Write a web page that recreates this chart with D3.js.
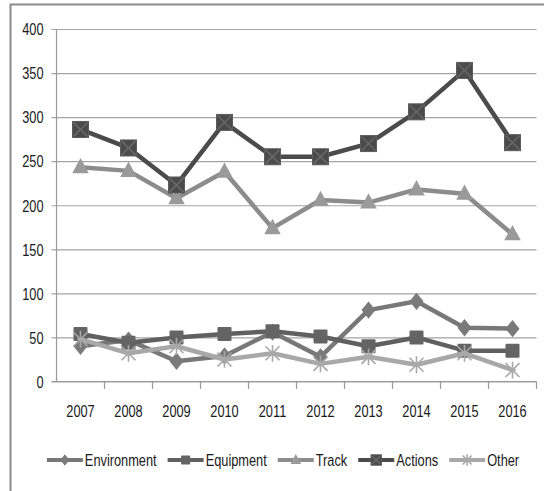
<!DOCTYPE html>
<html>
<head>
<meta charset="utf-8">
<script src="https://cdn.jsdelivr.net/npm/d3@7"></script>
<style>
  html, body { margin: 0; padding: 0; background: #fff; }
  svg { display: block; }
  text { font-family: "Liberation Sans", Arial, sans-serif; fill: #1a1a1a; }
</style>
</head>
<body>
<svg id="chart" width="544" height="491"></svg>
<script>
// Categories and series values
const years = ["2007", "2008", "2009", "2010", "2011", "2012", "2013", "2014", "2015", "2016"];
const environment = [40, 47, 23, 29, 56, 28, 81, 91, 61, 60];
const equipment   = [54, 44, 50, 54, 57, 51, 40, 50, 35, 35];
const track       = [243, 239, 208, 238, 174, 206, 203, 218, 213, 167];
const actions     = [286, 265, 223, 294, 255, 255, 270, 306, 353, 271];
const other       = [48, 32, 40, 25, 32, 20, 28, 19, 32, 13];
const yTicks = [0, 50, 100, 150, 200, 250, 300, 350, 400];

const series = [
  { name: "Environment", values: environment, line: "#787878", fill: "#7a7a7a", marker: "diamond" },
  { name: "Equipment",   values: equipment,   line: "#606060", fill: "#646464", marker: "square" },
  { name: "Track",       values: track,       line: "#8c8c8c", fill: "#9a9a9a", marker: "triangle" },
  { name: "Actions",     values: actions,     line: "#4b4b4b", fill: "#4b4b4b", marker: "xsquare" },
  { name: "Other",       values: other,       line: "#a8a8a8", fill: "#a8a8a8", marker: "star" }
];

// Condensed lettering: text is squeezed horizontally
const SX = 0.8;
const FS = 16;

const svg = d3.select("#chart");

// Outer frame (open to the right and bottom)
svg.append("path")
  .attr("d", "M10.5,600 L10.5,4.5 L600,4.5")
  .attr("fill", "none").attr("stroke", "#8a8a8a").attr("stroke-width", 2);

const x = d3.scaleBand().domain(years).range([56.5, 536.5]);
const y = d3.scaleLinear().domain([0, 400]).range([381.5, 29]);
const cx = d => x(d) + x.bandwidth() / 2;

// Horizontal gridlines with y tick labels
const yAxis = d3.axisLeft(y).tickValues(yTicks).tickSize(-(536.5 - 56.5));
const gy = svg.append("g").attr("transform", "translate(56.5,0)").call(yAxis);
gy.select(".domain").remove();
gy.selectAll(".tick line").attr("stroke", "#a4a4a4").attr("stroke-width", 1.2).attr("x1", -5);
gy.selectAll(".tick text")
  .attr("font-size", FS)
  .attr("x", -13 / SX)
  .attr("dy", "0.36em")
  .attr("transform", `scale(${SX},1)`);

// Vertical axis line
svg.append("line").attr("x1", 56.5).attr("x2", 56.5).attr("y1", 29).attr("y2", 381.5)
  .attr("stroke", "#9a9a9a").attr("stroke-width", 1.2);

// Category axis along the bottom
const xAxis = d3.axisBottom(x).tickSizeOuter(0).tickSize(0).tickPadding(24);
const gx = svg.append("g").attr("transform", "translate(0,381.5)").call(xAxis);
gx.select(".domain").attr("stroke", "#9a9a9a").attr("stroke-width", 1.2)
  .attr("d", "M51.5,0 H536.5");
gx.selectAll(".tick text").attr("font-size", FS).attr("transform", `scale(${SX},1)`);
// Tick marks between categories
svg.append("g").selectAll("line").data(years).join("line")
  .attr("x1", d => x(d) + x.bandwidth()).attr("x2", d => x(d) + x.bandwidth())
  .attr("y1", 381.5).attr("y2", 389)
  .attr("stroke", "#9a9a9a").attr("stroke-width", 1.2);

// Marker drawing
function drawMarker(g, type, fill, s) {
  if (type === "diamond") {
    g.append("path").attr("d", `M0,${-s * 0.62} L${s * 0.5},0 L0,${s * 0.62} L${-s * 0.5},0 Z`).attr("fill", fill);
  } else if (type === "square") {
    g.append("rect").attr("x", -s / 2).attr("y", -s / 2).attr("width", s).attr("height", s)
      .attr("rx", 1).attr("fill", fill);
  } else if (type === "triangle") {
    g.append("path").attr("d", `M0,${-s * 0.62} L${s * 0.55},${s * 0.4} L${-s * 0.55},${s * 0.4} Z`).attr("fill", fill);
  } else if (type === "xsquare") {
    g.append("rect").attr("x", -s / 2).attr("y", -s / 2).attr("width", s).attr("height", s)
      .attr("fill", fill).attr("stroke", "#5c5c5c").attr("stroke-width", 1);
    const h = s / 2 - 1;
    g.append("path").attr("d", `M${-h},${-h} L${h},${h} M${h},${-h} L${-h},${h}`)
      .attr("stroke", "#6e6e6e").attr("stroke-width", 1.2);
  } else if (type === "star") {
    const h = s / 2;
    g.append("path")
      .attr("d", `M${-h},${-h} L${h},${h} M${h},${-h} L${-h},${h} M0,${-h * 1.2} L0,${h * 1.2} M${-h * 0.5},0 L${h * 0.5},0`)
      .attr("stroke", fill).attr("stroke-width", 1.6).attr("fill", "none");
  }
}

const line = d3.line().x((d, i) => cx(years[i])).y(d => y(d));
const sizes = { diamond: 14, square: 14, triangle: 15, xsquare: 16, star: 14 };

series.forEach(s => {
  const g = svg.append("g");
  g.append("path").datum(s.values).attr("d", line)
    .attr("fill", "none").attr("stroke", s.line).attr("stroke-width", 4.5)
    .attr("stroke-linejoin", "round");
  s.values.forEach((v, i) => {
    const m = g.append("g").attr("transform", `translate(${cx(years[i])},${y(v)})`);
    drawMarker(m, s.marker, s.fill, sizes[s.marker]);
  });
});

// Legend
const legend = svg.append("g").attr("transform", "translate(0,460)");
const lineLen = 36, gap = 11;
const items = [];
series.forEach(s => {
  const it = legend.append("g");
  it.append("line").attr("x1", 0).attr("x2", lineLen).attr("y1", 0).attr("y2", 0)
    .attr("stroke", s.line).attr("stroke-width", 4);
  const m = it.append("g").attr("transform", `translate(${lineLen / 2},0)`);
  drawMarker(m, s.marker, s.fill, sizes[s.marker] * 0.65);
  const t = it.append("text")
    .attr("transform", `translate(${lineLen + 2},0) scale(${SX},1)`)
    .attr("dy", "0.36em")
    .attr("font-size", FS).text(s.name);
  const w = lineLen + 2 + t.node().getComputedTextLength() * SX;
  items.push({ it, w });
});
const total = d3.sum(items, d => d.w) + gap * (items.length - 1);
let xpos = 283 - total / 2;
items.forEach(d => {
  d.it.attr("transform", `translate(${xpos},0)`);
  xpos += d.w + gap;
});
</script>
</body>
</html>
